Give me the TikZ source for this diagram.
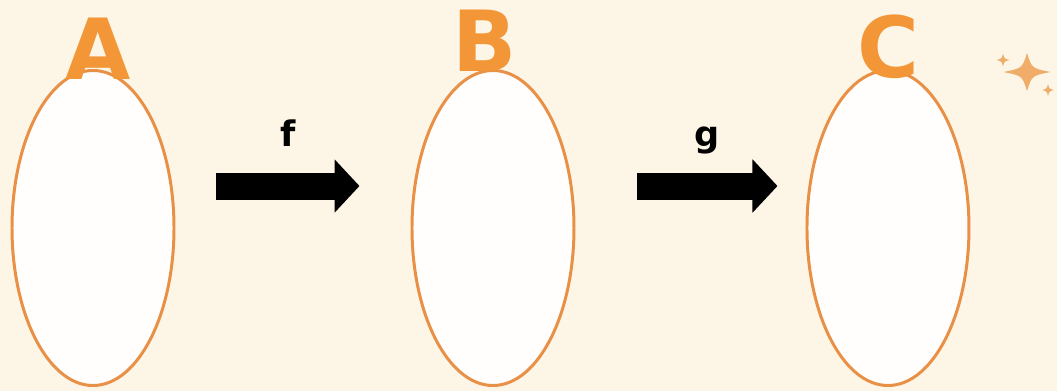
\documentclass[tikz,border=0pt]{standalone}
\usepackage{fontspec}
\setmainfont{DejaVu Sans}
\usetikzlibrary{positioning,shapes.geometric,arrows.meta,calc}

\definecolor{cream}{RGB}{253,246,230}
\definecolor{setline}{RGB}{232,145,70}
\definecolor{lettercol}{RGB}{243,150,55}
\definecolor{sparkcol}{RGB}{240,172,105}

\tikzset{
  setbox/.style={draw=setline, line width=1.7pt, ellipse, minimum width=3.24cm, minimum height=6.3cm, inner sep=0pt, fill=white!70!cream!40!white},
  setname/.style={font=\fontsize{48}{48}\selectfont\bfseries, text=lettercol, anchor=base},
  maplabel/.style={font=\fontsize{20}{20}\selectfont\bfseries, anchor=base},
  maparrow/.style={line width=0.54cm, -{Triangle[length=0.5cm,width=1.04cm]}},
  sparkle/.pic={\fill[sparkcol] (0,1) .. controls (0.2,0.2) .. (1,0) .. controls (0.2,-0.2) .. (0,-1) .. controls (-0.2,-0.2) .. (-1,0) .. controls (-0.2,0.2) .. (0,1) -- cycle;}
}

\begin{document}
\begin{tikzpicture}
  \fill[cream] (0,0) rectangle (21.14,-7.82);
  \useasboundingbox (0,0) rectangle (21.14,-7.82);

  % the three sets
  \node[setbox] (A) at (1.86,-4.56) {};
  \node[setbox, right=4.7cm of A] (B) {};
  \node[setbox, right=4.6cm of B] (C) {};

  \node[setname] (nameA) at ([xshift=0.1cm, yshift=-0.2cm]A.north) {A};
  \node[setname] (nameB) at ([xshift=-0.16cm, yshift=-0.04cm]B.north) {B};
  \node[setname] (nameC) at ([yshift=-0.16cm]C.north) {C};

  % the maps
  \draw[maparrow] ([xshift=0.82cm, yshift=0.84cm]A.east) -- ([xshift=-1.02cm, yshift=0.84cm]B.west)
    node[maplabel, midway, yshift=0.8cm] (f) {f};
  \draw[maparrow] ([xshift=1.24cm, yshift=0.84cm]B.east) -- ([xshift=-0.56cm, yshift=0.84cm]C.west)
    node[maplabel, midway, yshift=0.8cm] (g) {g};

  \pic[xscale=0.47, yscale=0.38] at (20.54,-1.44) {sparkle};
  \pic[scale=0.13] at (20.06,-1.2) {sparkle};
  \pic[scale=0.12] at (20.96,-1.8) {sparkle};
\end{tikzpicture}
\end{document}
